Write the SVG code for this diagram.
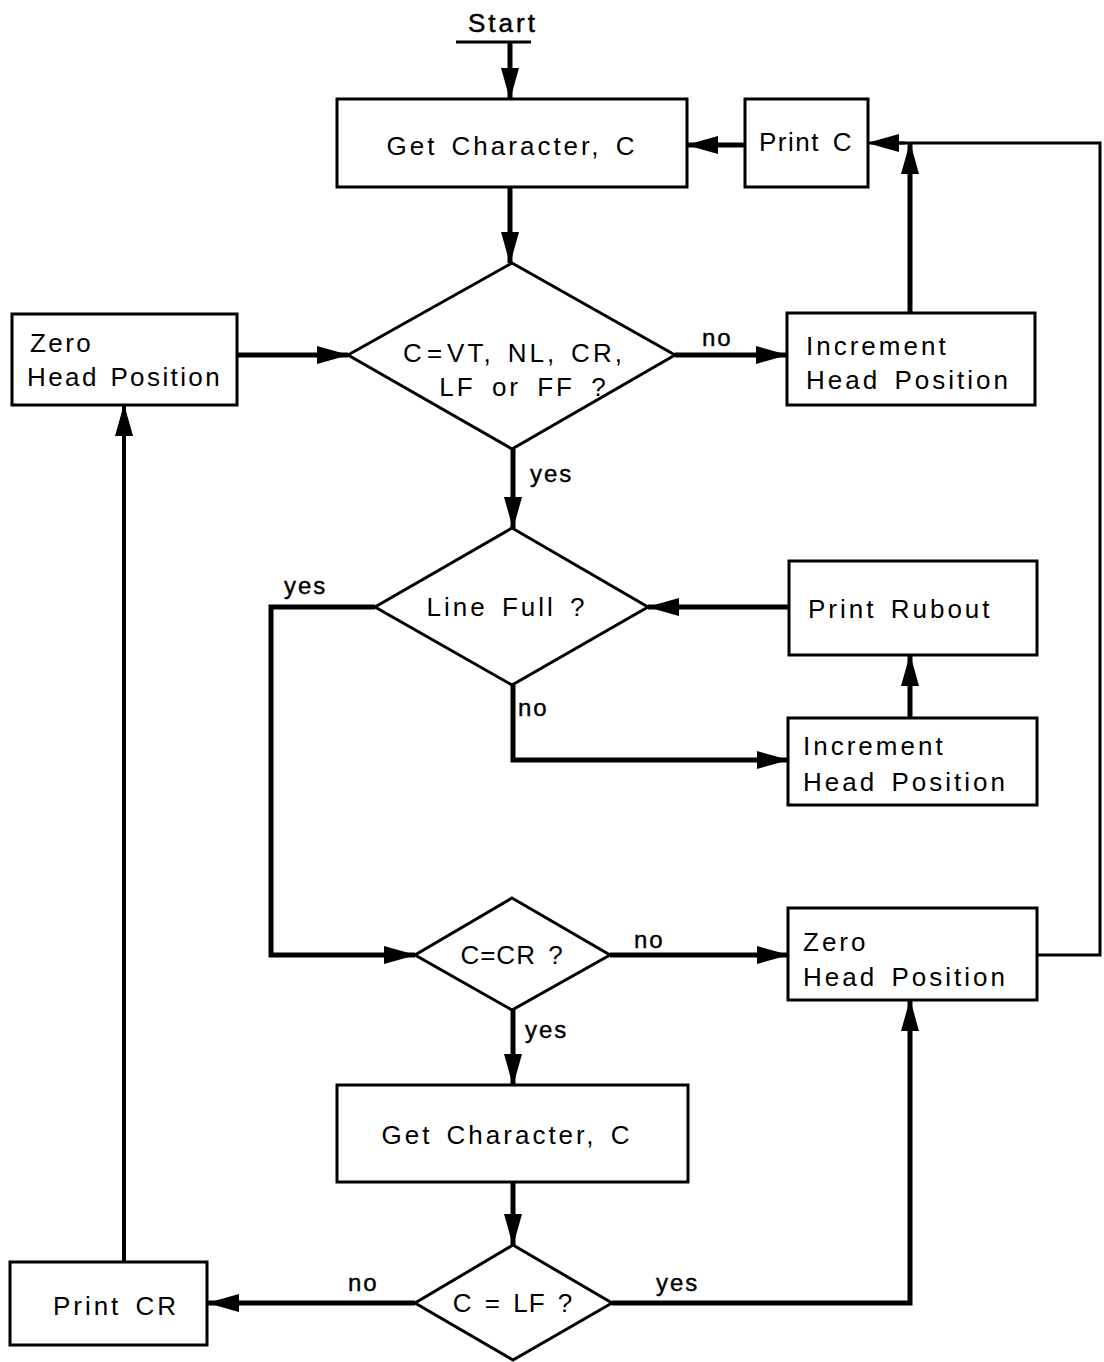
<svg xmlns="http://www.w3.org/2000/svg" width="1104" height="1362" viewBox="0 0 1104 1362">
<defs>
<marker id="ah" markerUnits="userSpaceOnUse" markerWidth="32" markerHeight="18" refX="31" refY="9" orient="auto">
<path d="M0,0 L32,9 L0,18 z" fill="#000"/>
</marker>
<style>
.box{fill:#fff;stroke:#000;stroke-width:3}
.t{font-family:"Liberation Sans",Arial,sans-serif;font-size:26px;letter-spacing:3px;word-spacing:4px;fill:#000}
.m{text-anchor:middle}
.ca{fill:none;stroke:#000;stroke-width:5;marker-end:url(#ah)}
.thin{fill:none;stroke:#000;stroke-width:3}
.lbl{font-family:"Liberation Sans",Arial,sans-serif;font-size:24px;letter-spacing:2px;fill:#000;stroke:#000;stroke-width:0.4}
</style>
</defs>
<rect width="1104" height="1362" fill="#fff"/>

<g id="connectors">
<line class="ca" x1="510" y1="42" x2="510" y2="99"/>
<line class="ca" x1="745" y1="145" x2="687" y2="145"/>
<line class="ca" x1="510" y1="187" x2="510" y2="263"/>
<line class="ca" x1="237" y1="355" x2="348" y2="355"/>
<line class="ca" x1="675" y1="355" x2="787" y2="355"/>
<line class="ca" x1="910" y1="313" x2="910" y2="143"/>
<polyline class="thin" points="1037,955 1100,955 1100,143 895,143"/>
<line class="ca" x1="905" y1="143" x2="868" y2="143" style="stroke-width:3"/>
<line class="ca" x1="513" y1="449" x2="513" y2="528"/>
<line class="ca" x1="789" y1="607" x2="648" y2="607"/>
<line class="ca" x1="910" y1="718" x2="910" y2="655"/>
<polyline class="ca" points="513,685 513,760 788,760"/>
<polyline class="ca" points="375,607 271,607 271,955 415,955"/>
<line class="ca" x1="610" y1="955" x2="788" y2="955"/>
<line class="ca" x1="513" y1="1010" x2="513" y2="1085"/>
<line class="ca" x1="513" y1="1182" x2="513" y2="1245"/>
<line class="ca" x1="415" y1="1303" x2="208" y2="1303"/>
<line class="ca" x1="124" y1="1262" x2="124" y2="405" style="stroke-width:4"/>
<polyline class="ca" points="612,1303 910,1303 910,1000"/>
<text class="lbl" x="702" y="346">no</text>
<text class="lbl" x="530" y="482">yes</text>
<text class="lbl" x="284" y="594">yes</text>
<text class="lbl" x="518" y="716">no</text>
<text class="lbl" x="634" y="948">no</text>
<text class="lbl" x="525" y="1038">yes</text>
<text class="lbl" x="348" y="1291">no</text>
<text class="lbl" x="656" y="1291">yes</text>
</g>

<g id="start">
<text class="t m" x="503" y="32" style="stroke:#000;stroke-width:0.5">Start</text>
<line x1="456" y1="42" x2="531" y2="42" stroke="#000" stroke-width="3"/>
</g>
<g id="get_char_1">
<rect class="box" x="337" y="99" width="350" height="88"/>
<text class="t m" x="512" y="155">Get Character, C</text>
</g>
<g id="print_c">
<rect class="box" x="745" y="99" width="123" height="88"/>
<text class="t m" x="806" y="151" style="letter-spacing:1.5px">Print C</text>
</g>
<g id="decision_ctrl">
<polygon class="box" points="512,263 675,355 512,449 348,355"/>
<text class="t m" x="514" y="362" style="letter-spacing:3px;word-spacing:0px">C<tspan dx="2">=</tspan><tspan dx="2">VT,</tspan><tspan dx="14">NL,</tspan><tspan dx="14">CR,</tspan></text>
<text class="t m" x="524" y="396" style="word-spacing:6px">LF or FF ?</text>
</g>
<g id="zero_head_left">
<rect class="box" x="12" y="314" width="225" height="91"/>
<text class="t" x="30" y="352" style="letter-spacing:2.4px">Zero</text>
<text class="t" x="27" y="386" style="letter-spacing:2.4px;word-spacing:2px">Head Position</text>
</g>
<g id="inc_head_top">
<rect class="box" x="787" y="313" width="248" height="92"/>
<text class="t" x="806" y="355">Increment</text>
<text class="t" x="806" y="389">Head Position</text>
</g>
<g id="line_full">
<polygon class="box" points="512,528 648,607 512,685 375,607"/>
<text class="t m" x="507" y="616">Line Full ?</text>
</g>
<g id="print_rubout">
<rect class="box" x="789" y="561" width="248" height="94"/>
<text class="t" x="808" y="618">Print Rubout</text>
</g>
<g id="inc_head_mid">
<rect class="box" x="788" y="718" width="249" height="87"/>
<text class="t" x="803" y="755">Increment</text>
<text class="t" x="803" y="791">Head Position</text>
</g>
<g id="c_eq_cr">
<polygon class="box" points="512,898 610,955 512,1010 415,955"/>
<text class="t m" x="512" y="964" style="letter-spacing:1px">C=CR ?</text>
</g>
<g id="zero_head_right">
<rect class="box" x="788" y="908" width="249" height="92"/>
<text class="t" x="803" y="951">Zero</text>
<text class="t" x="803" y="986">Head Position</text>
</g>
<g id="get_char_2">
<rect class="box" x="337" y="1085" width="351" height="97"/>
<text class="t m" x="507" y="1144">Get Character, C</text>
</g>
<g id="c_eq_lf">
<polygon class="box" points="513,1245 612,1303 513,1360 415,1303"/>
<text class="t m" x="513" y="1312" style="letter-spacing:1px">C = LF ?</text>
</g>
<g id="print_cr">
<rect class="box" x="10" y="1262" width="197" height="83"/>
<text class="t m" x="116" y="1315">Print CR</text>
</g>
</svg>
